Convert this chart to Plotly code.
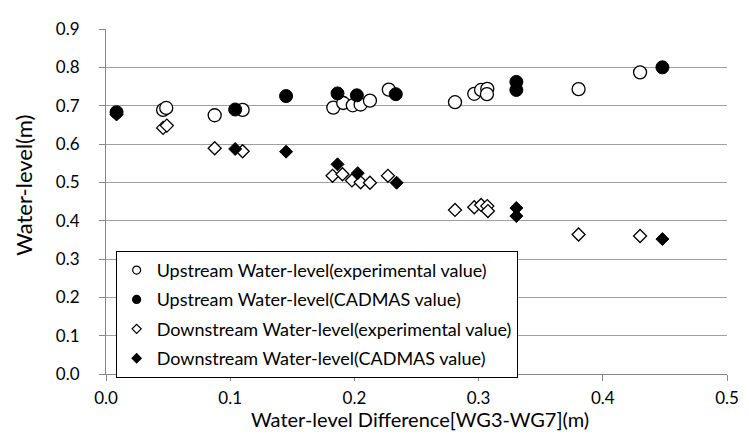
import plotly.graph_objects as go

# Upstream water level, experimental (open circles)
up_exp_x = [0.046, 0.0485, 0.0875, 0.110, 0.183, 0.191, 0.1987, 0.205, 0.2125, 0.2277,
            0.281, 0.2965, 0.302, 0.307, 0.3067, 0.3805, 0.430]
up_exp_y = [0.689, 0.694, 0.675, 0.689, 0.695, 0.707, 0.701, 0.703, 0.713, 0.742,
            0.709, 0.731, 0.741, 0.744, 0.730, 0.743, 0.787]

# Upstream water level, CADMAS (filled circles)
up_cad_x = [0.0085, 0.104, 0.145, 0.1864, 0.202, 0.2333, 0.3304, 0.3304, 0.448]
up_cad_y = [0.683, 0.690, 0.725, 0.732, 0.727, 0.730, 0.762, 0.741, 0.800]

# Downstream water level, experimental (open diamonds)
dn_exp_x = [0.046, 0.049, 0.0875, 0.110, 0.1824, 0.1904, 0.198, 0.205, 0.2125, 0.227,
            0.281, 0.2965, 0.302, 0.307, 0.3075, 0.3805, 0.430]
dn_exp_y = [0.642, 0.648, 0.589, 0.581, 0.517, 0.521, 0.505, 0.500, 0.499, 0.517,
            0.428, 0.435, 0.441, 0.438, 0.425, 0.364, 0.360]

# Downstream water level, CADMAS (filled diamonds)
dn_cad_x = [0.0085, 0.104, 0.145, 0.1864, 0.2027, 0.234, 0.3304, 0.3304, 0.448]
dn_cad_y = [0.677, 0.587, 0.580, 0.547, 0.524, 0.499, 0.433, 0.412, 0.352]

names = [
    "Upstream Water-level(experimental value)",
    "Upstream Water-level(CADMAS value)",
    "Downstream Water-level(experimental value)",
    "Downstream Water-level(CADMAS value)",
]

x_ticks = [0.0, 0.1, 0.2, 0.3, 0.4, 0.5]
y_ticks = [0.0, 0.1, 0.2, 0.3, 0.4, 0.5, 0.6, 0.7, 0.8, 0.9]

x_title = "Water-level Difference[WG3-WG7](m)"
y_title = "Water-level(m)"

FONT = "Lato"
AXIS_GRAY = "#868686"

series = [
    (up_exp_x, up_exp_y, "circle", 13, 8, "white"),
    (up_cad_x, up_cad_y, "circle", 13, 8, "black"),
    (dn_exp_x, dn_exp_y, "diamond", 10, 7, "white"),
    (dn_cad_x, dn_cad_y, "diamond", 10, 7, "black"),
]

fig = go.Figure()
for i, (xs, ys, sym, size, lsize, fill) in enumerate(series):
    lw = 1.3 if fill == "white" else 1
    # data marks
    fig.add_trace(go.Scatter(x=xs, y=ys, mode="markers", name=names[i], showlegend=False,
                             legendgroup=f"g{i}",
                             marker=dict(symbol=sym, size=size, color=fill,
                                         line=dict(color="black", width=lw))))
    # legend entry with the smaller legend symbol
    fig.add_trace(go.Scatter(x=[None], y=[None], mode="markers", name=names[i],
                             legendgroup=f"g{i}", showlegend=True,
                             marker=dict(symbol=sym, size=lsize, color=fill,
                                         line=dict(color="black", width=1.2))))

# The page body has an 8px margin, so the figure is drawn 8px smaller and offset.
fig.update_layout(
    width=741, height=433,
    margin=dict(l=98, r=18, t=10, b=67),
    paper_bgcolor="white", plot_bgcolor="white",
    font=dict(family=FONT, size=16, color="black"),
    showlegend=True,
    legend=dict(x=0.0155, y=0.357, xanchor="left", yanchor="top",
                bgcolor="white", bordercolor="black", borderwidth=1,
                font=dict(family=FONT, size=18, color="black"),
                tracegroupgap=3, itemwidth=30, itemsizing="trace"),
    annotations=[
        dict(text=y_title, textangle=-90, showarrow=False,
             xref="paper", yref="paper", x=-0.1328, y=0.547,
             xanchor="center", yanchor="middle",
             font=dict(family=FONT, size=22, color="black")),
        dict(text=x_title, showarrow=False,
             xref="paper", yref="paper", x=0.506, y=-0.1318,
             xanchor="center", yanchor="middle",
             font=dict(family=FONT, size=20, color="black")),
    ],
)
fig.update_xaxes(
    range=[0, 0.5], tickvals=x_ticks, ticktext=[f"{v:.1f}" for v in x_ticks],
    showgrid=False, zeroline=False, showline=True, linecolor=AXIS_GRAY, linewidth=1,
    ticks="outside", ticklen=6, tickcolor=AXIS_GRAY, ticklabelstandoff=3,
    ticklabeloverflow="allow",
    tickfont=dict(family=FONT, size=17),
)
fig.update_yaxes(
    range=[0, 0.9], tickvals=y_ticks, ticktext=[f"{v:.1f}" for v in y_ticks],
    showgrid=True, gridcolor="#a0a0a0", gridwidth=1, zeroline=False,
    showline=True, linecolor=AXIS_GRAY, linewidth=1,
    ticks="outside", ticklen=6, tickcolor=AXIS_GRAY, ticklabelstandoff=16,
    ticklabeloverflow="allow",
    tickfont=dict(family=FONT, size=17),
)

fig.write_html("out.html")
